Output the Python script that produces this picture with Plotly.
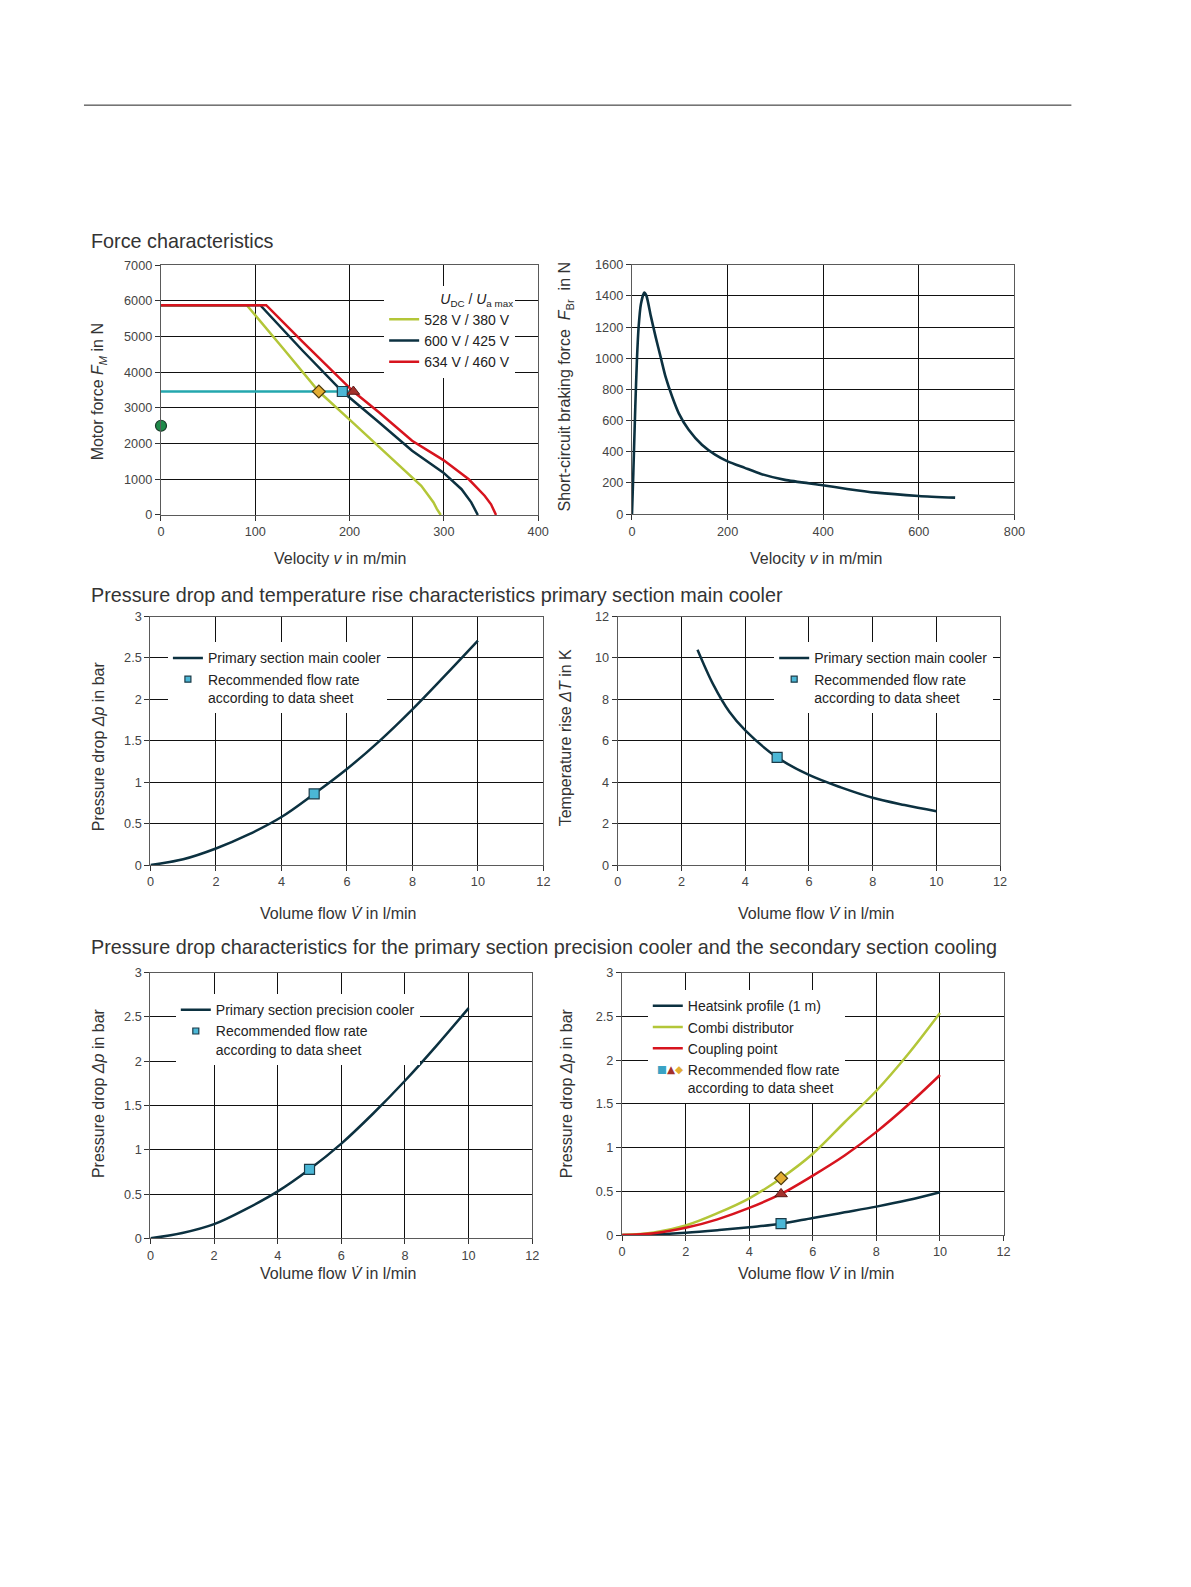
import plotly.graph_objects as go

W, H = 1191, 1587


def fx(p):
    return p / W


def fy(p):
    return 1 - p / H


# ---------------- data ----------------
# Force characteristics: motor force vs velocity for three supply voltages
v_528 = [0, 91, 130, 167.4, 200, 225, 250, 269, 276, 283.8, 289, 292.5, 296.7]
f_528 = [5880, 5880, 4650, 3460, 2670, 2070, 1460, 1000, 820, 540, 350, 170, 0]
v_600 = [0, 105.3, 150, 192.3, 231.4, 266.3, 299.5, 318.7, 329, 336]
f_600 = [5880, 5880, 4610, 3460, 2594, 1800, 1186, 722, 353, 0]
v_634 = [0, 111.6, 150, 186, 204, 231.4, 266.3, 299.5, 326.4, 343.2, 350, 355.3]
f_634 = [5880, 5880, 4860, 3920, 3460, 2872, 2080, 1539, 1000, 539, 300, 0]
op_line_v = [0, 204]
op_line_f = [3460, 3460]
op_v_528 = [167.4]
op_v_600 = [192.3]
op_v_634 = [204]
op_force = [3460]
stand_v = [0]
stand_f = [2500]

# Short-circuit braking force vs velocity
brake_v = [0, 2.8, 6.9, 10.3, 13.8, 18.6, 25.5, 30.3, 39.3, 49.7, 60, 70.3, 84.1, 97.9, 118.6, 146.2,
           173.8, 200, 235.9, 270, 320, 399, 450, 511, 600, 676]
brake_f = [0, 265, 689, 986, 1198, 1346, 1421, 1400, 1272, 1134, 1007, 880, 753, 647, 541, 445,
           382, 339, 297, 258, 220, 186, 162, 138, 117, 106]

# Primary section main cooler
flow_main = [0, 1, 2, 3, 4, 5, 6, 7, 8, 9, 10]
dp_main = [0, 0.07, 0.20, 0.37, 0.58, 0.86, 1.16, 1.50, 1.88, 2.29, 2.71]
flow_dt = [2.5, 3, 3.5, 4, 5, 6, 7, 8, 9, 10]
dt_main = [10.4, 8.7, 7.4, 6.5, 5.2, 4.35, 3.75, 3.25, 2.9, 2.6]
rec_main_flow = [5]
rec_main_dp = [0.86]
rec_main_dt = [5.2]

# Primary section precision cooler
flow_prec = [0, 1, 2, 3, 4, 5, 6, 7, 8, 9, 10]
dp_prec = [0, 0.06, 0.16, 0.33, 0.53, 0.78, 1.07, 1.41, 1.78, 2.18, 2.60]
rec_prec_flow = [5]
rec_prec_dp = [0.78]

# Secondary section cooling
flow_sec = [0, 1, 2, 3, 4, 5, 6, 7, 8, 9, 10]
dp_heatsink = [0, 0.007, 0.026, 0.055, 0.09, 0.13, 0.196, 0.26, 0.325, 0.40, 0.49]
dp_combi = [0, 0.03, 0.11, 0.25, 0.42, 0.65, 0.93, 1.29, 1.65, 2.07, 2.54]
dp_coupling = [0, 0.02, 0.083, 0.18, 0.31, 0.47, 0.68, 0.91, 1.18, 1.49, 1.83]
rec_sec_flow = [5]
rec_heatsink = [0.13]
rec_combi = [0.65]
rec_coupling = [0.47]

# ---------------- styles ----------------
NAVY = "#0c3140"
GREEN = "#b3c638"
RED = "#d7141e"
TEAL = "#24a7ae"
SQ_FILL = "#4bb7d6"
DIA_FILL = "#e3ad32"
TRI_FILL = "#a3302b"
FONT = "Liberation Sans"
TXT = "#333333"

sq_marker = dict(symbol="square", size=10, color=SQ_FILL, line=dict(color="#1b3b48", width=1.2))
sq_legend = dict(symbol="square", size=6, color=SQ_FILL, line=dict(color="#1b3b48", width=1.2))
hidden_legend = dict(symbol="square", size=6, color="rgba(0,0,0,0)", line=dict(width=0))
dia_marker = dict(symbol="diamond", size=10, color=DIA_FILL, line=dict(color="#4a3a10", width=1.2))
tri_marker = dict(symbol="triangle-up", size=11, color=TRI_FILL, line=dict(color="#5a1a18", width=1))

fig = go.Figure()

# ---- top left: force characteristics ----
fig.add_trace(go.Scatter(x=v_528, y=f_528, mode="lines", line=dict(color=GREEN, width=2.5),
                         name="528 V / 380 V", xaxis="x", yaxis="y", legend="legend"))
fig.add_trace(go.Scatter(x=v_600, y=f_600, mode="lines", line=dict(color=NAVY, width=2.5),
                         name="600 V / 425 V", xaxis="x", yaxis="y", legend="legend"))
fig.add_trace(go.Scatter(x=v_634, y=f_634, mode="lines", line=dict(color=RED, width=2.5),
                         name="634 V / 460 V", xaxis="x", yaxis="y", legend="legend"))
fig.add_trace(go.Scatter(x=op_line_v, y=op_line_f, mode="lines", line=dict(color=TEAL, width=2.5),
                         showlegend=False, xaxis="x", yaxis="y"))
fig.add_trace(go.Scatter(x=op_v_528, y=op_force, mode="markers", marker=dia_marker,
                         showlegend=False, xaxis="x", yaxis="y"))
fig.add_trace(go.Scatter(x=op_v_600, y=op_force, mode="markers", marker=sq_marker,
                         showlegend=False, xaxis="x", yaxis="y"))
fig.add_trace(go.Scatter(x=op_v_634, y=op_force, mode="markers", marker=tri_marker,
                         showlegend=False, xaxis="x", yaxis="y"))
fig.add_trace(go.Scatter(x=stand_v, y=stand_f, mode="markers",
                         marker=dict(symbol="circle", size=11, color="#1f8a4a", line=dict(color="#1b3a2a", width=1.2)),
                         showlegend=False, xaxis="x", yaxis="y", cliponaxis=False))

# ---- top right: braking force ----
fig.add_trace(go.Scatter(x=brake_v, y=brake_f, mode="lines",
                         line=dict(color=NAVY, width=2.6, shape="spline", smoothing=0.6),
                         showlegend=False, xaxis="x2", yaxis="y2"))

# ---- middle left: main cooler pressure drop ----
fig.add_trace(go.Scatter(x=flow_main, y=dp_main, mode="lines", line=dict(color=NAVY, width=2.5, shape="spline"),
                         name="Primary section main cooler", xaxis="x3", yaxis="y3", legend="legend2"))
fig.add_trace(go.Scatter(x=[None], y=[None], mode="markers", marker=sq_legend,
                         name="Recommended flow rate<br>according to data sheet", xaxis="x3", yaxis="y3", legend="legend2"))
fig.add_trace(go.Scatter(x=rec_main_flow, y=rec_main_dp, mode="markers", marker=sq_marker,
                         showlegend=False, xaxis="x3", yaxis="y3"))

# ---- middle right: main cooler temperature rise ----
fig.add_trace(go.Scatter(x=flow_dt, y=dt_main, mode="lines", line=dict(color=NAVY, width=2.5, shape="spline"),
                         name="Primary section main cooler", xaxis="x4", yaxis="y4", legend="legend3"))
fig.add_trace(go.Scatter(x=[None], y=[None], mode="markers", marker=sq_legend,
                         name="Recommended flow rate<br>according to data sheet", xaxis="x4", yaxis="y4", legend="legend3"))
fig.add_trace(go.Scatter(x=rec_main_flow, y=rec_main_dt, mode="markers", marker=sq_marker,
                         showlegend=False, xaxis="x4", yaxis="y4"))

# ---- bottom left: precision cooler ----
fig.add_trace(go.Scatter(x=flow_prec, y=dp_prec, mode="lines", line=dict(color=NAVY, width=2.5, shape="spline"),
                         name="Primary section precision cooler", xaxis="x5", yaxis="y5", legend="legend4"))
fig.add_trace(go.Scatter(x=[None], y=[None], mode="markers", marker=sq_legend,
                         name="Recommended flow rate<br>according to data sheet", xaxis="x5", yaxis="y5", legend="legend4"))
fig.add_trace(go.Scatter(x=rec_prec_flow, y=rec_prec_dp, mode="markers", marker=sq_marker,
                         showlegend=False, xaxis="x5", yaxis="y5"))

# ---- bottom right: secondary section ----
fig.add_trace(go.Scatter(x=flow_sec, y=dp_heatsink, mode="lines", line=dict(color=NAVY, width=2.5, shape="spline"),
                         name="Heatsink profile (1 m)", xaxis="x6", yaxis="y6", legend="legend5"))
fig.add_trace(go.Scatter(x=flow_sec, y=dp_combi, mode="lines", line=dict(color=GREEN, width=2.5, shape="spline"),
                         name="Combi distributor", xaxis="x6", yaxis="y6", legend="legend5"))
fig.add_trace(go.Scatter(x=flow_sec, y=dp_coupling, mode="lines", line=dict(color=RED, width=2.5, shape="spline"),
                         name="Coupling point", xaxis="x6", yaxis="y6", legend="legend5"))
fig.add_trace(go.Scatter(x=[None], y=[None], mode="markers", marker=hidden_legend,
                         name="Recommended flow rate<br>according to data sheet", xaxis="x6", yaxis="y6", legend="legend5"))
fig.add_trace(go.Scatter(x=rec_sec_flow, y=rec_heatsink, mode="markers", marker=sq_marker,
                         showlegend=False, xaxis="x6", yaxis="y6"))
fig.add_trace(go.Scatter(x=rec_sec_flow, y=rec_coupling, mode="markers", marker=tri_marker,
                         showlegend=False, xaxis="x6", yaxis="y6"))
fig.add_trace(go.Scatter(x=rec_sec_flow, y=rec_combi, mode="markers", marker=dia_marker,
                         showlegend=False, xaxis="x6", yaxis="y6"))

# ---------------- axes ----------------
common = dict(showgrid=True, gridcolor="#111111", gridwidth=1.25, showline=True, linecolor="#5a5a5a",
              linewidth=1.3, mirror=True, ticks="outside", ticklen=5, tickcolor="#333", tickwidth=1,
              tickfont=dict(size=12.7, color="#444", family=FONT), zeroline=False, fixedrange=True)

panels = [
    # (xdom px, ydom px, xrange, xdtick, yrange, ydtick)
    ((159, 541), (260.5, 512.5), (0, 400), 100, (0, 7000), 1000),
    ((636, 1023.3), (260, 511.7), (0, 800), 200, (0, 1600), 200),
    ((148.3, 546.3), (615, 865.7), (0, 12), 2, (0, 3), 0.5),
    ((621.7, 1008.8), (615, 865.7), (0, 12), 2, (0, 12), 2),
    ((148.3, 535), (974.3, 1242.3), (0, 12), 2, (0, 3), 0.5),
    ((626, 1012.3), (974.3, 1239), (0, 12), 2, (0, 3), 0.5),
]
layout_axes = {}
for i, (xd, yd, xr, xdt, yr, ydt) in enumerate(panels, start=1):
    sfx = "" if i == 1 else str(i)
    layout_axes["xaxis" + sfx] = dict(common, domain=[fx(xd[0]), fx(xd[1])], range=list(xr), dtick=xdt,
                                      tick0=0, anchor="y" + sfx)
    layout_axes["yaxis" + sfx] = dict(common, domain=[fy(yd[1]), fy(yd[0])], range=list(yr), dtick=ydt,
                                      tick0=0, anchor="x" + sfx)

# ---------------- text ----------------
annotations = []


def text(x, y, s, size=16, angle=0, xanchor="center", yanchor="middle"):
    annotations.append(dict(x=fx(x), y=fy(y), xref="paper", yref="paper", text=s, showarrow=False,
                            textangle=angle, xanchor=xanchor, yanchor=yanchor,
                            font=dict(size=size, color=TXT, family=FONT)))


text(86, 236, "Force characteristics", size=19.8, xanchor="left")
text(86, 593, "Pressure drop and temperature rise characteristics primary section main cooler", size=19.8, xanchor="left")
text(86, 948, "Pressure drop characteristics for the primary section precision cooler and the secondary section cooling",
     size=19.8, xanchor="left")

VEL = "Velocity <i>v</i> in m/min"
VOL = "Volume flow <i>V̇</i> in l/min"
DP = "Pressure drop <i>Δp</i> in bar"
text(96, 388, "Motor force <i>F</i><sub><i>M</i></sub> in N", angle=-90)
text(569, 383, "Short-circuit braking force  <i>F</i><sub>Br</sub>  in N", angle=-90)
text(96, 746, DP, angle=-90)
text(569, 737, "Temperature rise <i>ΔT</i> in K", angle=-90)
text(96, 1096, DP, angle=-90)
text(569, 1096, DP, angle=-90)
text(341, 556, VEL)
text(823, 556, VEL)
text(339, 915, VOL)
text(823, 915, VOL)
text(339, 1278, VOL)
text(823, 1278, VOL)

# symbols for the combined marker legend entry (bottom right)
annotations.append(dict(x=fx(691), y=fy(1071), xref="paper", yref="paper", showarrow=False,
                        xanchor="right", yanchor="middle",
                        text="<span style='color:#3aa3c4'>■</span><span style='color:%s'>▲</span>"
                             "<span style='color:%s'>◆</span>" % (TRI_FILL, DIA_FILL),
                        font=dict(size=10.5, family="DejaVu Sans")))

leg_common = dict(bgcolor="white", borderwidth=0, font=dict(size=14, color="#222", family=FONT),
                  xanchor="left", yanchor="top", tracegroupgap=0, valign="top", itemclick=False,
                  itemdoubleclick=False)

fig.update_layout(
    width=W, height=H, margin=dict(l=0, r=0, t=0, b=0),
    paper_bgcolor="white", plot_bgcolor="white",
    font=dict(family=FONT, color=TXT),
    annotations=annotations,
    shapes=[dict(type="line", xref="paper", yref="paper", x0=fx(81), x1=fx(1081), y0=fy(99), y1=fy(99),
                 line=dict(color="#222", width=1))],
    legend=dict(leg_common, x=fx(385), y=fy(281),
                title=dict(text="<i>U</i><sub>DC</sub> / <i>U</i><sub>a max</sub>", side="top right",
                           font=dict(size=14, color="#222", family=FONT))),
    legend2=dict(leg_common, x=fx(166), y=fy(641)),
    legend3=dict(leg_common, x=fx(780), y=fy(641)),
    legend4=dict(leg_common, x=fx(174), y=fy(996)),
    legend5=dict(leg_common, x=fx(652), y=fy(992)),
    showlegend=True,
    **layout_axes,
)

fig.write_html("out.html", config={"displayModeBar": False},
               post_script="document.body.style.margin='0px';")
